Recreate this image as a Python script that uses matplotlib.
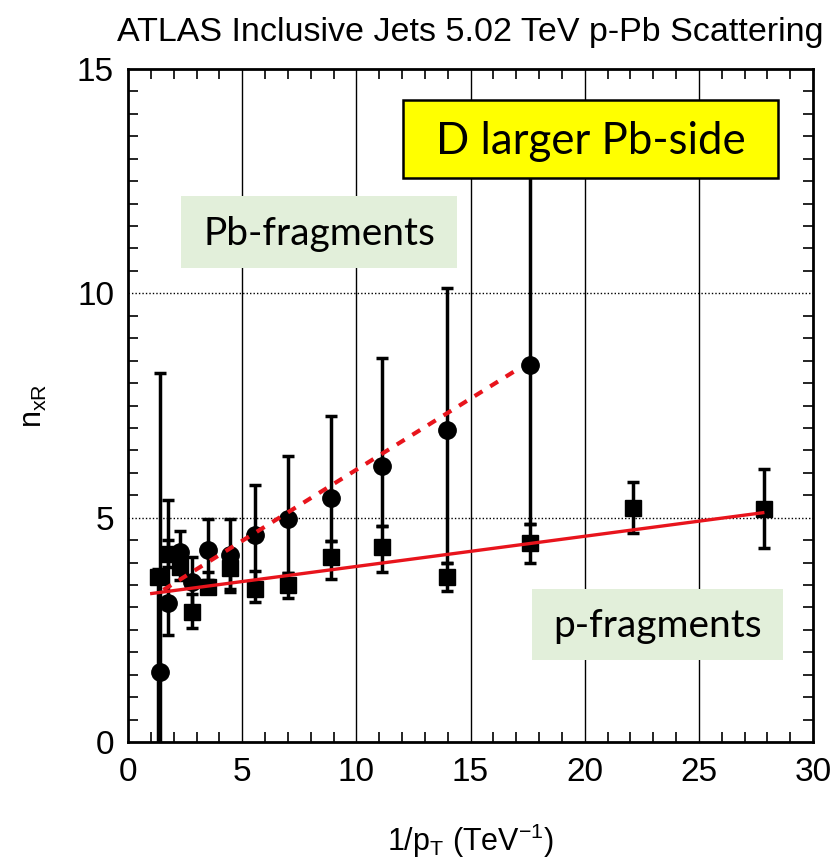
import matplotlib
matplotlib.use("Agg")
import matplotlib.pyplot as plt
import numpy as np
from matplotlib.patches import Rectangle
from matplotlib.ticker import MultipleLocator

# Pb-fragments (circles): 1/pT, value, lower/upper end of error bar
pb_x = [1.40, 1.77, 2.28, 2.82, 3.52, 4.47, 5.56, 7.02, 8.88, 11.11, 13.96, 17.61]
pb_y = [1.55, 3.09, 4.24, 3.57, 4.28, 4.17, 4.61, 4.96, 5.43, 6.15, 6.95, 8.40]
pb_lo = [-1.0, 2.38, 3.77, 3.00, 3.60, 3.40, 3.50, 3.77, 4.48, 4.82, 4.00, 4.85]
pb_hi = [8.22, 5.39, 4.71, 4.13, 4.96, 4.96, 5.73, 6.38, 7.27, 8.55, 10.13, 13.0]

# p-fragments (squares)
p_x = [1.30, 1.77, 2.28, 2.82, 3.52, 4.47, 5.56, 7.02, 8.88, 11.11, 13.96, 17.61, 22.10, 27.87]
p_y = [3.68, 4.20, 3.91, 2.90, 3.45, 3.87, 3.42, 3.50, 4.13, 4.35, 3.68, 4.43, 5.21, 5.19]
p_lo = [-1.0, 3.90, 3.60, 2.53, 3.32, 3.35, 3.12, 3.20, 3.63, 3.80, 3.37, 4.00, 4.65, 4.33]
p_hi = [3.85, 4.50, 4.20, 3.30, 3.80, 4.20, 3.82, 3.77, 4.48, 4.82, 4.00, 4.86, 5.80, 6.08]

# straight-line fits drawn in red
fit_p_x = [1.04, 27.8]
fit_p_y = [3.31, 5.11]
fit_pb_x = [1.55, 17.2]
fit_pb_y = [3.39, 8.35]

plt.rcParams['font.family'] = ['Liberation Sans', 'DejaVu Sans']
plt.rcParams['mathtext.fontset'] = 'custom'
plt.rcParams['mathtext.rm'] = 'Liberation Sans'
plt.rcParams['mathtext.it'] = 'Liberation Sans'

fig = plt.figure(figsize=(8.33, 8.66), dpi=100)
ax = fig.add_axes([128 / 833, 1 - 742 / 866, 685 / 833, 673 / 866])

ax.set_xlim(0, 30)
ax.set_ylim(0, 15)
ax.xaxis.set_major_locator(MultipleLocator(5))
ax.xaxis.set_minor_locator(MultipleLocator(1))
ax.yaxis.set_major_locator(MultipleLocator(5))
ax.yaxis.set_minor_locator(MultipleLocator(0.5))
ax.tick_params(which='both', direction='in', top=True, right=True, labelsize=24, width=1.2)
ax.tick_params(which='major', length=0, pad=11)
ax.tick_params(which='minor', length=7)
ax.tick_params(axis='y', which='major', pad=10)
for sp in ax.spines.values():
    sp.set_linewidth(2)

# grid: solid vertical, dotted horizontal
for xv in [5, 10, 15, 20, 25]:
    ax.axvline(xv, color='black', lw=1.0, zorder=0)
for yv in [5, 10]:
    ax.axhline(yv, color='black', lw=1.0, ls=(0, (1, 1.5)), zorder=0)

pb_y_a = np.array(pb_y)
p_y_a = np.array(p_y)
ax.errorbar(p_x, p_y, yerr=[p_y_a - np.array(p_lo), np.array(p_hi) - p_y_a],
            fmt='s', color='black', ms=11.5, elinewidth=2.5, capsize=4.5, capthick=2.5, zorder=3)
ax.errorbar(pb_x, pb_y, yerr=[pb_y_a - np.array(pb_lo), np.array(pb_hi) - pb_y_a],
            fmt='o', color='black', ms=12.5, elinewidth=2.5, capsize=4.5, capthick=2.5, zorder=3)

ax.plot(fit_p_x, fit_p_y, color='#e8141c', lw=2.4, zorder=4)
ax.plot(fit_pb_x, fit_pb_y, color='#e8141c', lw=3, ls=(0, (2.2, 2.2)), zorder=4)

ax.set_xlabel(r'$\mathregular{1/p_T\ (TeV^{-1})}$', fontsize=22, labelpad=24)
ax.set_ylabel(r'$\mathregular{n_{xR}}$', fontsize=22, labelpad=20)
fig.text(470 / 833, 1 - 32 / 866, 'ATLAS Inclusive Jets 5.02 TeV p-Pb Scattering',
         fontsize=24.5, ha='center', va='center')

# callout boxes (axes fraction)
boxes = [
    ((0.4015, 0.838), 0.5475, 0.116, '#ffff00', 'black', 'D larger Pb-side', (0.675, 0.893), 31.5),
    ((0.0774, 0.704), 0.4026, 0.107, '#e2efda', 'none', 'Pb-fragments', (0.279, 0.755), 28),
    ((0.590, 0.122), 0.366, 0.105, '#e2efda', 'none', 'p-fragments', (0.773, 0.172), 28),
]
for (x0, y0), w, h, fc, ec, txt, (tx, ty), fs in boxes:
    ax.add_patch(Rectangle((x0, y0), w, h, transform=ax.transAxes, facecolor=fc,
                           edgecolor=ec, lw=1.8, zorder=5, clip_on=False))
    ax.text(tx, ty, txt, transform=ax.transAxes, ha='center', va='center',
            fontsize=fs, family=['Lato', 'DejaVu Sans'], zorder=6)

fig.savefig('out.png', dpi=100)
